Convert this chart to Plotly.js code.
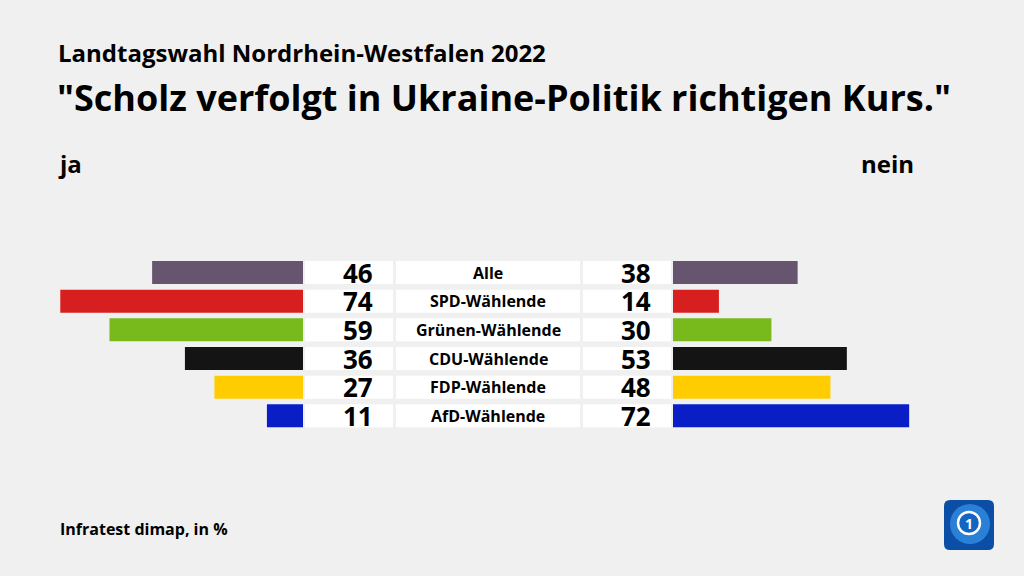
<!DOCTYPE html>
<html>
<head>
<meta charset="utf-8">
<script src="https://cdn.plot.ly/plotly-3.0.1.min.js"></script>
<style>
  html, body { margin: 0; padding: 0; background: #f0f0f0; }
  #chart { width: 1024px; height: 576px; }
</style>
</head>
<body>
<div id="chart"></div>
<script>
// ---- data ----
const categories = ['Alle', 'SPD-Wählende', 'Grünen-Wählende', 'CDU-Wählende', 'FDP-Wählende', 'AfD-Wählende'];
const jaValues = [46, 74, 59, 36, 27, 11];
const neinValues = [38, 14, 30, 53, 48, 72];
const barColors = ['#675570', '#d81f1f', '#78b91c', '#141414', '#ffcc00', '#0a1ec8'];
const subtitleText = 'Landtagswahl Nordrhein-Westfalen 2022';
const titleText = '"Scholz verfolgt in Ukraine-Politik richtigen Kurs."';
const leftHeader = 'ja';
const rightHeader = 'nein';
const sourceText = 'Infratest dimap, in %';

// ---- layout helpers ----
const W = 1024, H = 576;
const FONT = 'Open Sans, Noto Sans, sans-serif';
const pxPerUnit = 3.28;
const leftEnd = 303, rightStart = 673;
const rowTop = 261, rowPitch = 28.67, rowH = 23;
const c0 = rowTop + rowH / 2;
const yTop = -c0 / rowPitch;
const yBottom = (H - c0) / rowPitch;
const halfBar = rowH / rowPitch / 2;
const px = v => v / W;
const py = v => 1 - v / H;

const traces = [
  {
    type: 'bar', orientation: 'h',
    x: jaValues, y: categories,
    xaxis: 'x', yaxis: 'y',
    marker: { color: barColors },
    width: halfBar * 2,
    hoverinfo: 'none'
  },
  {
    type: 'bar', orientation: 'h',
    x: neinValues, y: categories,
    xaxis: 'x2', yaxis: 'y',
    marker: { color: barColors },
    width: halfBar * 2,
    hoverinfo: 'none'
  }
];

const shapes = [];
const boxes = [[305, 393], [396, 580], [583, 671]];
categories.forEach((c, i) => {
  boxes.forEach(b => {
    shapes.push({
      type: 'rect', xref: 'paper', yref: 'y',
      x0: px(b[0]), x1: px(b[1]), y0: i - halfBar, y1: i + halfBar,
      fillcolor: '#ffffff', line: { width: 0 }, layer: 'below'
    });
  });
});
// logo
shapes.push({
  type: 'path', xref: 'paper', yref: 'paper',
  path: 'M ' + px(950) + ',' + py(500) + ' L ' + px(988) + ',' + py(500) +
        ' Q ' + px(994) + ',' + py(500) + ' ' + px(994) + ',' + py(506) +
        ' L ' + px(994) + ',' + py(544) +
        ' Q ' + px(994) + ',' + py(550) + ' ' + px(988) + ',' + py(550) +
        ' L ' + px(950) + ',' + py(550) +
        ' Q ' + px(944) + ',' + py(550) + ' ' + px(944) + ',' + py(544) +
        ' L ' + px(944) + ',' + py(506) +
        ' Q ' + px(944) + ',' + py(500) + ' ' + px(950) + ',' + py(500) + ' Z',
  fillcolor: '#0a4ea6', line: { width: 0 }
});
shapes.push({
  type: 'circle', xref: 'paper', yref: 'paper',
  x0: px(950), x1: px(990), y0: py(504), y1: py(544),
  fillcolor: '#2a7fd6', line: { width: 0 }
});
shapes.push({
  type: 'circle', xref: 'paper', yref: 'paper',
  x0: px(958), x1: px(980), y0: py(512), y1: py(534),
  fillcolor: '#1565c0', line: { color: '#ffffff', width: 2.5 }
});

const annotations = [];
const addText = (text, x, y, size, xanchor, extra) => {
  annotations.push(Object.assign({
    text: text, x: px(x), y: py(y), xref: 'paper', yref: 'paper',
    xanchor: xanchor, yanchor: 'middle', showarrow: false,
    font: { family: FONT, size: size, color: '#000000', weight: 700 }
  }, extra || {}));
};
addText(subtitleText, 56, 53, 24, 'left');
addText(titleText, 55, 98, 36, 'left');
addText(leftHeader, 56, 163, 24, 'left');
addText(rightHeader, 916, 163, 24, 'right');
addText(sourceText, 58, 529, 16, 'left');
addText('1', 969, 523, 14, 'center', { font: { family: FONT, size: 14, color: '#ffffff', weight: 700 } });

categories.forEach((c, i) => {
  annotations.push({
    text: String(jaValues[i]), x: px(375), y: c, xref: 'paper', yref: 'y',
    xanchor: 'right', yanchor: 'middle', showarrow: false, yshift: 0,
    font: { family: FONT, size: 26, color: '#000000', weight: 700 }
  });
  annotations.push({
    text: c, x: px(488), y: c, xref: 'paper', yref: 'y',
    xanchor: 'center', yanchor: 'middle', showarrow: false,
    font: { family: FONT, size: 16, color: '#000000', weight: 700 }
  });
  annotations.push({
    text: String(neinValues[i]), x: px(653), y: c, xref: 'paper', yref: 'y',
    xanchor: 'right', yanchor: 'middle', showarrow: false, yshift: 0,
    font: { family: FONT, size: 26, color: '#000000', weight: 700 }
  });
});

const layout = {
  width: W, height: H,
  margin: { l: 0, r: 0, t: 0, b: 0, pad: 0 },
  paper_bgcolor: '#f0f0f0', plot_bgcolor: 'rgba(0,0,0,0)',
  showlegend: false,
  barmode: 'overlay',
  xaxis: { domain: [0, leftEnd / W], range: [leftEnd / pxPerUnit, 0], visible: false, fixedrange: true },
  xaxis2: { domain: [rightStart / W, 1], range: [0, (W - rightStart) / pxPerUnit], visible: false, anchor: 'y', fixedrange: true },
  yaxis: { type: 'category', categoryarray: categories, range: [yBottom, yTop], visible: false, domain: [0, 1], fixedrange: true },
  shapes: shapes,
  annotations: annotations
};

Plotly.newPlot('chart', traces, layout, { displayModeBar: false, staticPlot: true });
</script>
</body>
</html>
